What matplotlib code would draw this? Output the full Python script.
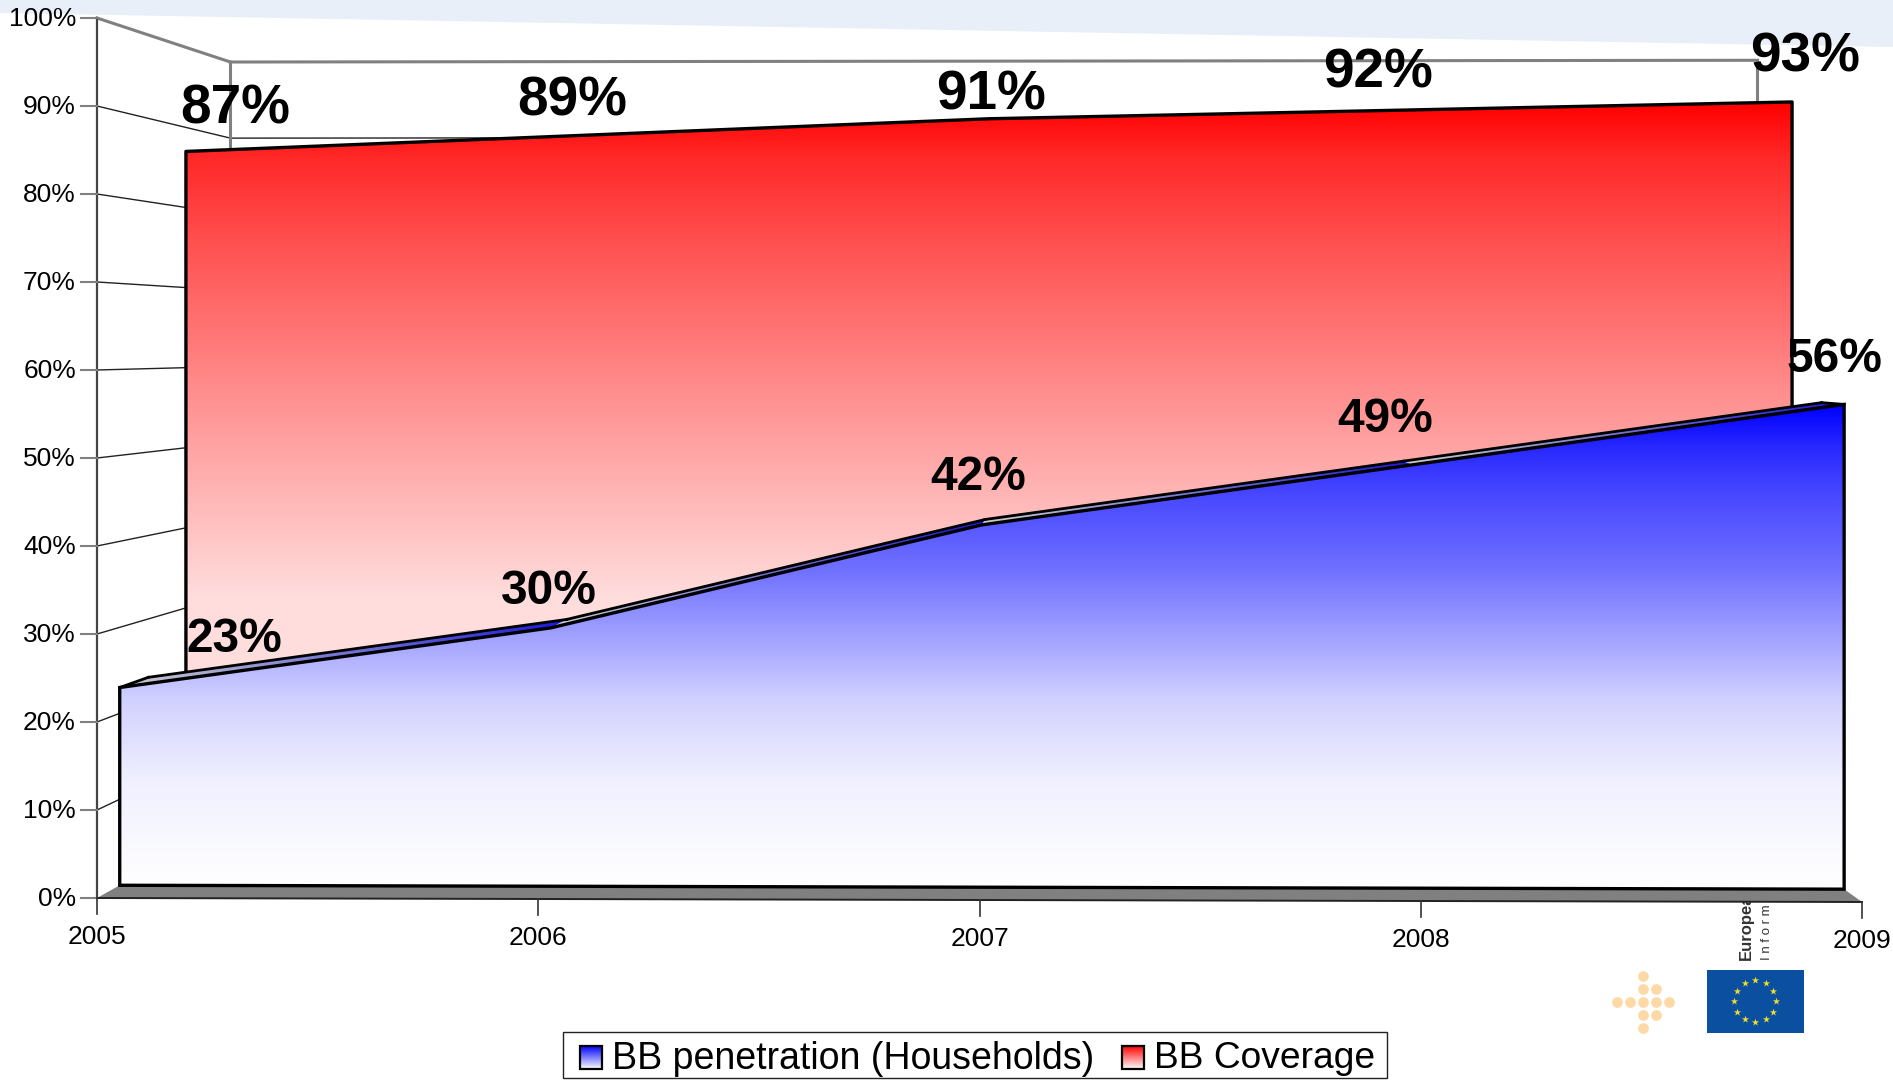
import numpy as np
import matplotlib
matplotlib.use('Agg')
import matplotlib.pyplot as plt
from matplotlib.patches import Polygon, Rectangle

plt.rcParams['font.family'] = ['Liberation Sans', 'DejaVu Sans']

years = [2005, 2006, 2007, 2008, 2009]
penetration = [23, 30, 42, 49, 56]
coverage = [87, 89, 91, 92, 93]
pct_ticks = [0, 10, 20, 30, 40, 50, 60, 70, 80, 90, 100]

# where the bold value labels sit (pixels)
coverage_label_x = [235, 572, 991, 1378, 1805]
coverage_label_y = [110, 101, 95, 74, 57]
penetration_label_x = [234, 549, 978, 1385, 1834]
penetration_label_y = [640, 592, 477, 420, 359]

# perspective of the 3d box
vanish_x, vanish_y = 1085, 344
wall_depth = 0.135
coverage_depth = 0.09
front_depth = 0.023
top_depth = 0.052


def project(year, pct, depth=0.0):
    year = np.asarray(year, dtype=float)
    pct = np.asarray(pct, dtype=float)
    f = (year - 2005) / 4
    fx = 97 + f * (1862 - 97)
    base = 898 + f * 4
    span = 880 + f * 6
    fy = base - pct / 100 * span
    return fx + depth * (vanish_x - fx), fy + depth * (vanish_y - fy)


def poly(points, **kw):
    p = Polygon(np.column_stack(points), closed=True, **kw)
    ax.add_patch(p)
    return p


def gradient_fill(patch, c0, c1, y_stops, f_stops, horizontal=False, zorder=2):
    # colour ramp painted with imshow and clipped to the patch
    xy = patch.get_xy()
    xmin, xmax = xy[:, 0].min(), xy[:, 0].max()
    ymin, ymax = xy[:, 1].min(), xy[:, 1].max()
    if horizontal:
        pos = np.linspace(xmin, xmax, 200)
    else:
        pos = np.linspace(ymin, ymax, 800)
    f = np.interp(pos, y_stops, f_stops)[:, None]
    ramp = (1 - f) * np.array(c0) + f * np.array(c1)
    ramp = ramp[None, :, :] if horizontal else ramp[:, None, :]
    im = ax.imshow(ramp, extent=(xmin, xmax, ymax, ymin), aspect='auto',
                   interpolation='bilinear', zorder=zorder)
    im.set_clip_path(patch)


fig = plt.figure(figsize=(18.93, 10.81), dpi=100)
ax = fig.add_axes([0, 0, 1, 1])
ax.axis('off')

# pale band along the top edge
ax.add_patch(Polygon([(0, 0), (1893, 0), (1893, 47), (0, 13)], fc='#e9eff8', ec='none', zorder=0))

# side wall grid lines
for p in pct_ticks[1:]:
    x0, y0 = project(2005, p, 0)
    x1, y1 = project(2005, p, wall_depth)
    if p == 100:
        ax.plot([x0, x1], [y0, y1], color='#808080', lw=2.2, zorder=1)
    else:
        ax.plot([x0, x1], [y0, y1], color='#222222', lw=1.0, zorder=1)

# back wall
tx, ty = project([2005, 2009], [100, 100], wall_depth)
ax.plot(tx, ty, color='#808080', lw=2.2, zorder=1)
gx, gy = project([2005, 2009], [90, 90], wall_depth)
ax.plot(gx, gy, color='#222222', lw=1.0, zorder=1)
for yr in (2005, 2009):
    vx, vy = project([yr, yr], [100, 0], wall_depth)
    ax.plot(vx, vy, color='#808080', lw=2.2, zorder=1)

# value axis and ticks
ax.plot(*project([2005, 2005], [100, 0], 0), color='#444444', lw=1.6, zorder=1)
for p in pct_ticks:
    x, y = project(2005, p, 0)
    ax.plot([x - 16, x], [y, y], color='#808080', lw=1.5, zorder=1)
    ax.text(x - 21, y + 1, f'{p}%', ha='right', va='center', fontsize=19, color='black')

# coverage area
cx, cy = project(years, coverage, coverage_depth)
bx, by = project(years[::-1], [0] * 5, coverage_depth)
red = poly((np.r_[cx, bx], np.r_[cy, by]), fc='none', ec='none', zorder=2)
gradient_fill(red, (1, 0, 0), (1, 1, 1), [102, 160, 240, 400, 600], [0, 0.165, 0.31, 0.57, 0.87])
ax.plot(np.r_[bx[-1], cx, bx[0]], np.r_[by[-1], cy, by[0]], color='black', lw=2.4, zorder=3)

# floor strip
fx0, fy0 = project([2005, 2009], [0, 0], 0)
fx1, fy1 = project([2009, 2005], [0, 0], front_depth)
poly((np.r_[fx0, fx1], np.r_[fy0, fy1]), fc='#808080', ec='none', zorder=4)
ax.plot(fx0, fy0, color='#222222', lw=1.4, zorder=4)

# year ticks
for yr in years:
    x, y = project(yr, 0, 0)
    ax.plot([x, x], [y, y + 16], color='#333333', lw=1.2, zorder=4)
    ax.text(x, y + 39, str(yr), ha='center', va='center', fontsize=19, color='black')

# top face of the penetration area, one ramp per segment
for i in range(4):
    xa, ya = project(years[i:i + 2], penetration[i:i + 2], front_depth)
    xb, yb = project(years[i:i + 2][::-1], penetration[i:i + 2][::-1], top_depth)
    xs = np.r_[xa, xb]
    face = poly((xs, np.r_[ya, yb]), fc='none', ec='none', zorder=5)
    gradient_fill(face, (0.8, 0.8, 0.8), (0.1, 0.1, 0.85), [xs.min(), xs.max()], [0, 1],
                  horizontal=True, zorder=5)
    ax.plot(xb, yb, color='black', lw=2.0, zorder=6)

# closing edges at both ends of the top face
for yr, v in ((years[0], penetration[0]), (years[-1], penetration[-1])):
    ex0, ey0 = project(yr, v, front_depth)
    ex1, ey1 = project(yr, v, top_depth)
    ax.plot([ex0, ex1], [ey0, ey1], color='black', lw=2.0, zorder=6)

# penetration area
px, py = project(years, penetration, front_depth)
qx, qy = project(years[::-1], [0] * 5, front_depth)
blue = poly((np.r_[px, qx], np.r_[py, qy]), fc='none', ec='none', zorder=7)
gradient_fill(blue, (0, 0, 1), (1, 1, 1), [405, 450, 490, 570, 660, 700, 780, 886],
              [0, 0.165, 0.27, 0.44, 0.7, 0.82, 0.94, 1], zorder=7)
blue_edge = Polygon(np.column_stack((np.r_[px, qx], np.r_[py, qy])), closed=True,
                    fc='none', ec='black', lw=2.4, zorder=8)
ax.add_patch(blue_edge)

# value labels
for v, x, y in zip(coverage, coverage_label_x, coverage_label_y):
    ax.text(x, y, f'{v}%', ha='center', va='center', fontsize=39.5, fontweight='bold', zorder=9)
for v, x, y in zip(penetration, penetration_label_x, penetration_label_y):
    ax.text(x, y, f'{v}%', ha='center', va='center', fontsize=34.5, fontweight='bold', zorder=9)

# legend box
ax.add_patch(Rectangle((563, 1032), 824, 46, fc='white', ec='#222222', lw=1.0, zorder=3))
sw1 = poly(([580, 602, 602, 580], [1046, 1046, 1069, 1069]), fc='none', ec='none', zorder=4)
gradient_fill(sw1, (0, 0, 1), (1, 1, 1), [1046, 1069], [0, 1], zorder=4)
sw2 = poly(([1122, 1144, 1144, 1122], [1046, 1046, 1069, 1069]), fc='none', ec='none', zorder=4)
gradient_fill(sw2, (1, 0, 0), (1, 1, 1), [1046, 1069], [0, 1], zorder=4)
for x in (580, 1122):
    ax.add_patch(Rectangle((x, 1046), 22, 23, fc='none', ec='black', lw=1.6, zorder=5))
ax.text(612, 1059, 'BB penetration (Households)', va='center', fontsize=27, zorder=5)
ax.text(1154, 1059, 'BB Coverage', va='center', fontsize=26.7, zorder=5)

# small logos in the corner
dot_col = [0, 0, 1, -2, -1, 0, 1, 2, 0, 1, 0]
dot_row = [-2, -1, -1, 0, 0, 0, 0, 0, 1, 1, 2]
ax.scatter(1643 + 13.2 * np.array(dot_col), 1002 + 13.2 * np.array(dot_row), s=60,
           color='#fdd9a8', linewidths=0, zorder=3)
ax.add_patch(Rectangle((1707, 970), 97, 63, fc='#0b50a0', ec='none', zorder=3))
star_angle = np.arange(12) * np.pi / 6
ax.scatter(1755 + 21 * np.cos(star_angle), 1001 + 21 * np.sin(star_angle), s=30, marker='*',
           color='#f2dc2a', linewidths=0, zorder=4)
clip = Rectangle((1730, 902), 60, 58, transform=ax.transData)
for x, label, weight, size in ((1746, 'European', 'bold', 12), (1767, 'I n f o r m a t i o n', 'normal', 9.5)):
    t = ax.text(x, 960, label, rotation=90, ha='center', va='bottom', fontsize=size,
                fontweight=weight, color='#333333', zorder=3)
    t.set_clip_path(clip)

ax.set_xlim(0, 1893)
ax.set_ylim(1081, 0)

fig.savefig('out.png', dpi=100)
